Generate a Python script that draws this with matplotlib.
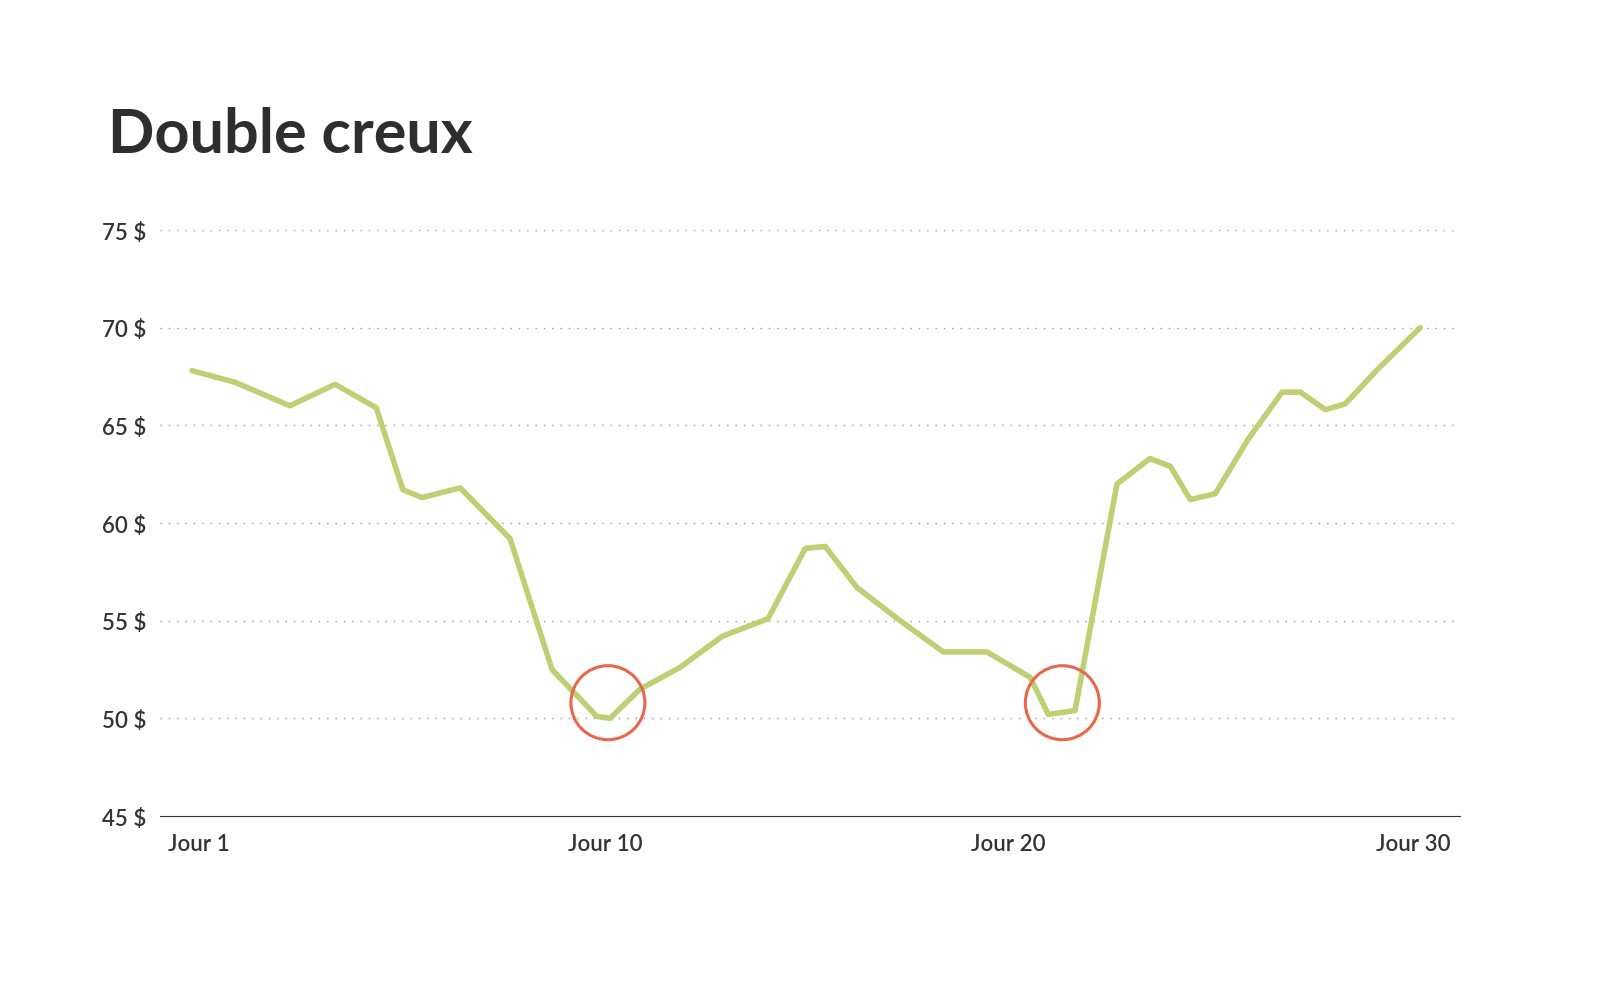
import matplotlib
matplotlib.use("Agg")
import matplotlib.pyplot as plt

days = [1.0, 2.02, 3.31, 4.38, 5.35, 5.98, 6.43, 7.33, 8.51, 9.50, 10.56, 10.87, 11.58, 12.52,
        13.52, 14.60, 15.48, 15.95, 16.70, 17.72, 18.74, 19.77, 20.79, 21.22, 21.85, 22.84,
        23.62, 24.10, 24.57, 25.16, 25.94, 26.74, 27.17, 27.76, 28.23, 29.01, 30.0]
prices = [67.8, 67.2, 66.0, 67.1, 65.9, 61.7, 61.3, 61.8, 59.2, 52.5, 50.1, 50.0, 51.5, 52.6,
          54.2, 55.1, 58.7, 58.8, 56.7, 55.0, 53.4, 53.4, 52.1, 50.2, 50.4, 62.0,
          63.3, 62.9, 61.2, 61.5, 64.3, 66.7, 66.7, 65.8, 66.1, 67.9, 70.0]
trough_days = [10.82, 21.55]
trough_prices = [50.8, 50.8]
tick_pos = [1.17, 10.75, 20.27, 29.83]
tick_labels = ["Jour 1", "Jour 10", "Jour 20", "Jour 30"]
y_ticks = [45, 50, 55, 60, 65, 70, 75]

fig = plt.figure(figsize=(16, 10.03), dpi=100)
ax = fig.add_axes([0.1, 1 - 817/1003, 0.8125, (817-231)/1003])
for y in y_ticks[1:]:
    ax.axhline(y, color="#999999", lw=1, ls=(0, (1, 5)), zorder=1)
ax.plot(days, prices, color="#bdd074", lw=4, solid_joinstyle="round", solid_capstyle="round", zorder=3)
ax.scatter(trough_days, trough_prices, s=2840, facecolors="none", edgecolors="#e8674b", linewidths=2.2, zorder=4, clip_on=False)
ax.set_xlim(0.244, 30.94)
ax.set_ylim(45, 75)
for s in ["top", "right", "left"]:
    ax.spines[s].set_visible(False)
ax.spines["bottom"].set_color("#333333")
ax.set_yticks(y_ticks)
ax.set_yticklabels([f"{v} $" for v in y_ticks], fontsize=16, fontweight="semibold", color="#333333", family="Lato")
ax.set_xticks(tick_pos)
ax.set_xticklabels(tick_labels, fontsize=16, fontweight="semibold", color="#333333", family="Lato")
ax.tick_params(length=0, pad=12)
ax.tick_params(axis="y", pad=10)
fig.text(108/1600, 1 - 135/1003, "Double creux", fontsize=44, fontweight="bold", color="#2e2e2e",
         family="Lato", va="center", ha="left")
fig.savefig("out.png", dpi=100, facecolor="white")
